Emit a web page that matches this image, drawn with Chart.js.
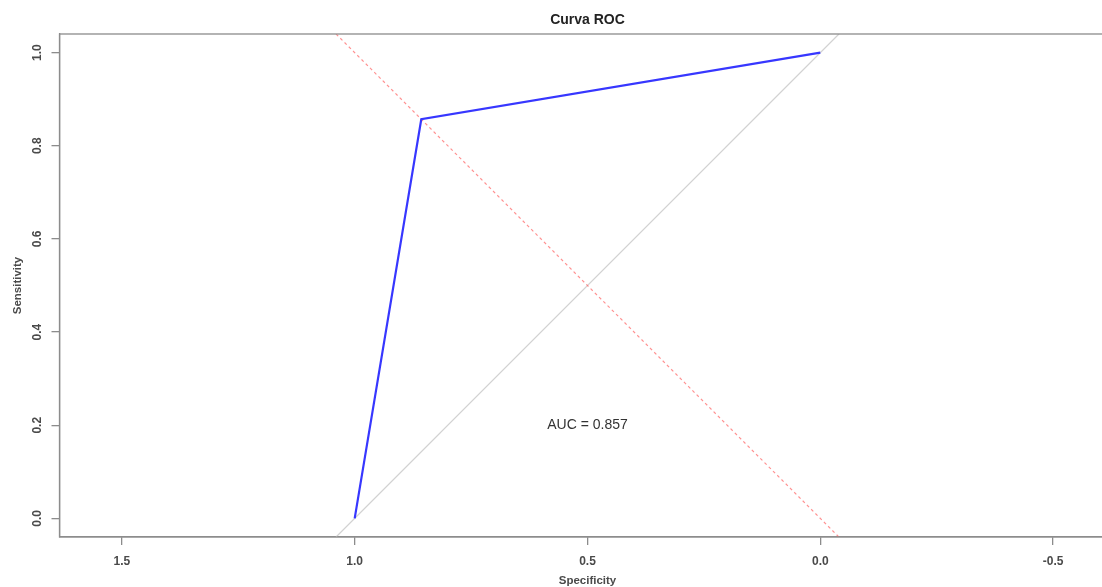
<!DOCTYPE html>
<html>
<head>
<meta charset="utf-8">
<title>Curva ROC</title>
<script src="https://cdn.jsdelivr.net/npm/chart.js@4.4.0/dist/chart.umd.min.js"></script>
<style>
  html, body { margin: 0; padding: 0; background: #fff; overflow: hidden; }
  #rocChart { display: block; }
</style>
</head>
<body>
<canvas id="rocChart" width="1118" height="587"></canvas>
<script>
// ROC curve values
const specificity = [1.0, 0.857, 0.0];
const sensitivity = [0.0, 0.857, 1.0];

// reference lines, drawn edge to edge of the plot box
const chanceSpec = [1.04, -0.04];
const chanceSens = [-0.04, 1.04];
const cutSpec = [1.04, -0.04];
const cutSens = [1.04, -0.04];

const xTicks = [1.5, 1.0, 0.5, 0.0, -0.5];
const yTicks = [0.0, 0.2, 0.4, 0.6, 0.8, 1.0];

const titleText = 'Curva ROC';
const aucText = 'AUC = 0.857';
const aucAt = { x: 0.5, y: 0.2 };

const FONT = "'Liberation Sans', Arial, sans-serif";
const AXIS_GREY = '#8c8c8c';
const LABEL_GREY = '#4a4a4a';

function toPoints(xs, ys) {
    return xs.map((x, i) => ({ x: x, y: ys[i] }));
}

// draws the box, the title and the AUC text
const rocExtras = {
    id: 'rocExtras',
    afterDatasetsDraw(chart) {
        const { ctx, chartArea, scales } = chart;
        ctx.save();
        ctx.strokeStyle = AXIS_GREY;
        ctx.lineWidth = 1.3;
        ctx.strokeRect(chartArea.left, chartArea.top,
            chartArea.right - chartArea.left, chartArea.bottom - chartArea.top);

        ctx.fillStyle = '#222';
        ctx.textAlign = 'center';
        ctx.textBaseline = 'middle';
        ctx.font = 'bold 14px ' + FONT;
        ctx.fillText(titleText, (chartArea.left + chartArea.right) / 2, 20);

        ctx.font = '14px ' + FONT;
        ctx.fillStyle = '#333';
        ctx.fillText(aucText, scales.x.getPixelForValue(aucAt.x), scales.y.getPixelForValue(aucAt.y));
        ctx.restore();
    }
};

const ctx = document.getElementById('rocChart').getContext('2d');

const data = {
    datasets: [
        {
            label: 'chance',
            data: toPoints(chanceSpec, chanceSens),
            borderColor: '#d2d2d2',
            borderWidth: 1.2,
            pointRadius: 0,
            order: 3
        },
        {
            label: 'cut',
            data: toPoints(cutSpec, cutSens),
            borderColor: 'rgba(255, 100, 100, 0.7)',
            borderWidth: 1.2,
            borderDash: [3, 3],
            pointRadius: 0,
            order: 2
        },
        {
            label: 'ROC',
            data: toPoints(specificity, sensitivity),
            borderColor: 'rgb(55, 55, 255)',
            borderWidth: 2.2,
            pointRadius: 0,
            order: 1
        }
    ]
};

const config = {
    type: 'line',
    data: data,
    options: {
        responsive: false,
        animation: false,
        devicePixelRatio: 1,
        layout: { padding: { top: 34, right: 2.5, left: 0, bottom: 0 } },
        plugins: {
            legend: { display: false },
            tooltip: { enabled: false }
        },
        scales: {
            x: {
                type: 'linear',
                reverse: true,
                min: -0.634,
                max: 1.634,
                afterBuildTicks: (scale) => { scale.ticks = xTicks.map(v => ({ value: v })); },
                afterFit: (scale) => { scale.height = 50; },
                grid: { drawOnChartArea: false, drawTicks: true, tickLength: 8, color: AXIS_GREY, lineWidth: 1.3 },
                border: { display: true, color: AXIS_GREY, width: 1.3 },
                ticks: {
                    padding: 9,
                    color: LABEL_GREY,
                    font: { family: FONT, size: 12, weight: 'bold' },
                    maxRotation: 0,
                    callback: (v) => Number(v).toFixed(1)
                },
                title: {
                    display: true,
                    text: 'Specificity',
                    color: LABEL_GREY,
                    font: { family: FONT, size: 11.5, weight: 'bold', lineHeight: 1 },
                    padding: { top: 0, bottom: 0 }
                }
            },
            y: {
                type: 'linear',
                min: -0.04,
                max: 1.04,
                afterBuildTicks: (scale) => { scale.ticks = yTicks.map(v => ({ value: v })); },
                afterFit: (scale) => { scale.width = 59.5; },
                grid: { drawOnChartArea: false, drawTicks: true, tickLength: 8, color: AXIS_GREY, lineWidth: 1.3 },
                border: { display: true, color: AXIS_GREY, width: 1.3 },
                ticks: {
                    padding: 5,
                    color: LABEL_GREY,
                    font: { family: FONT, size: 12, weight: 'bold' },
                    minRotation: 90,
                    maxRotation: 90,
                    crossAlign: 'center',
                    callback: (v) => Number(v).toFixed(1)
                },
                title: {
                    display: true,
                    text: 'Sensitivity',
                    color: LABEL_GREY,
                    font: { family: FONT, size: 11.5, weight: 'bold', lineHeight: 1 },
                    padding: { top: 12.5, bottom: 0 }
                }
            }
        }
    },
    plugins: [rocExtras]
};

const rocChart = new Chart(ctx, config);
</script>
</body>
</html>
